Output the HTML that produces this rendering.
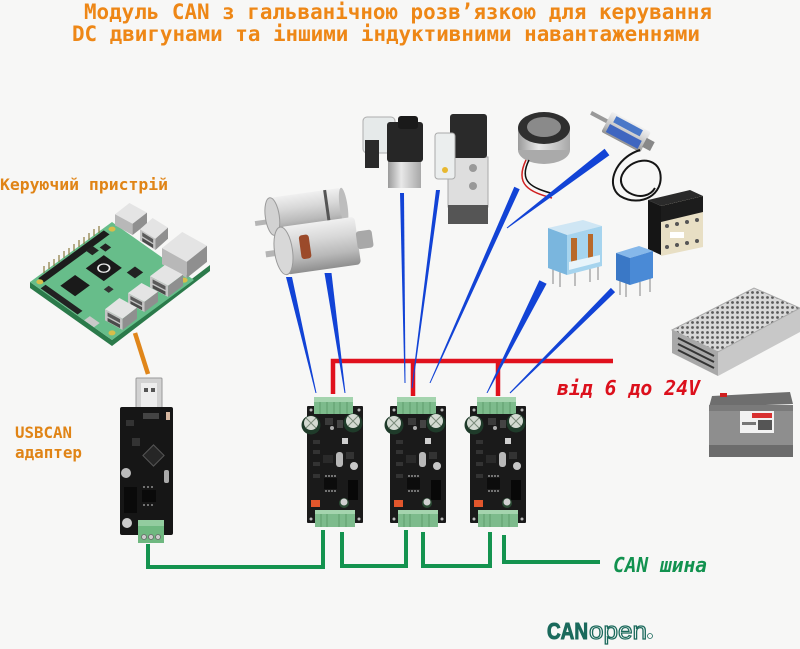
<!DOCTYPE html>
<html><head><meta charset="utf-8"><style>
html,body{margin:0;padding:0;background:#f7f7f6;}
svg{display:block;}
.m{font-family:"DejaVu Sans Mono","Liberation Mono",monospace;font-weight:bold;}
</style></head><body>
<svg width="800" height="649" viewBox="0 0 800 649" xmlns="http://www.w3.org/2000/svg">
<defs>
<linearGradient id="silverV" x1="0" y1="0" x2="0" y2="1">
<stop offset="0" stop-color="#f0f0f0"/><stop offset="0.35" stop-color="#d8d8d8"/><stop offset="0.7" stop-color="#b9b9b9"/><stop offset="1" stop-color="#8f8f8f"/></linearGradient>
<linearGradient id="silverH" x1="0" y1="0" x2="1" y2="0">
<stop offset="0" stop-color="#9a9a9a"/><stop offset="0.4" stop-color="#e8e8e8"/><stop offset="1" stop-color="#a8a8a8"/></linearGradient>
<pattern id="perf" width="5" height="5" patternUnits="userSpaceOnUse"><rect width="5" height="5" fill="#d9d9d9"/><circle cx="2.5" cy="2.5" r="1.4" fill="#5a5a5a"/></pattern>
<g id="isobox">
<polygon points="0,35 45,0 100,30 55,65" fill="#e4e4e4"/>
<polygon points="0,35 55,65 55,100 0,70" fill="#b8b8b8"/>
<polygon points="55,65 100,30 100,65 55,100" fill="#8f8f8f"/>
</g>
<g id="usbbox">
<polygon points="0,35 45,0 100,30 55,65" fill="#e4e4e4"/>
<polygon points="0,35 55,65 55,100 0,70" fill="#c4c4c4"/>
<polygon points="55,65 100,30 100,65 55,100" fill="#8f8f8f"/>
<polygon points="8,45 47,66 47,78 8,57" fill="#5a5a5a"/>
<polygon points="8,62 47,83 47,94 8,73" fill="#4a4a4a"/>
</g>
<g id="pcb">
<rect x="307" y="406" width="56" height="117" fill="#1a1a1a" rx="1"/>
<circle cx="311" cy="410" r="1.5" fill="#bbb"/><circle cx="359" cy="410" r="1.5" fill="#bbb"/>
<circle cx="311" cy="519" r="1.5" fill="#bbb"/><circle cx="359" cy="519" r="1.5" fill="#bbb"/>
<rect x="314" y="397" width="39" height="17" fill="#7dbb8c"/>
<rect x="314" y="397" width="39" height="5" fill="#a4d4ae"/>
<path d="M320,402V414M327,402V414M334,402V414M340,402V414M347,402V414" stroke="#5e9c6d" stroke-width="1"/>
<circle cx="311" cy="425" r="9.5" fill="#1f3b2a"/>
<circle cx="311" cy="423" r="7" fill="#d4dad2"/>
<path d="M306,418L316,428M316,418L306,428" stroke="#7a8a7a" stroke-width="1"/>
<circle cx="353" cy="423" r="9.5" fill="#1f3b2a"/>
<circle cx="353" cy="421" r="7" fill="#d4dad2"/>
<path d="M348,416L358,426M358,416L348,426" stroke="#7a8a7a" stroke-width="1"/>
<rect x="325" y="418" width="8" height="7" fill="#3a3a3a"/>
<rect x="337" y="420" width="6" height="8" fill="#444"/>
<circle cx="332" cy="428" r="2" fill="#aaa"/>
<rect x="342" y="438" width="6" height="6" fill="#cfcfcf"/>
<rect x="313" y="440" width="7" height="4" fill="#333"/>
<rect x="313" y="450" width="7" height="4" fill="#333"/>
<rect x="313" y="462" width="7" height="4" fill="#333"/>
<rect x="313" y="474" width="7" height="4" fill="#333"/>
<rect x="323" y="455" width="10" height="8" fill="#2a2a2a"/>
<rect x="336" y="452" width="7" height="15" rx="3" fill="#b8b8b8"/>
<rect x="346" y="452" width="8" height="7" fill="#333"/>
<circle cx="354" cy="466" r="4" fill="#c8c8c8"/>
<rect x="324" y="478" width="13" height="11" fill="#0c0c0c"/>
<path d="M326,477v-2M329,477v-2M332,477v-2M335,477v-2M326,490v2M329,490v2M332,490v2M335,490v2" stroke="#ccc" stroke-width="1"/>
<rect x="348" y="480" width="10" height="20" fill="#080808"/>
<rect x="311" y="500" width="9" height="7" fill="#e2562c"/>
<circle cx="344" cy="503" r="5" fill="#2a4a33"/><circle cx="344" cy="502" r="3.5" fill="#d0d0d0"/>
<rect x="315" y="510" width="18" height="17" fill="#7dbb8c"/>
<rect x="333" y="510" width="22" height="17" fill="#7dbb8c"/>
<rect x="315" y="510" width="40" height="4" fill="#a4d4ae"/>
<path d="M321,514V527M327,514V527M339,514V527M346,514V527" stroke="#5e9c6d" stroke-width="1"/>
</g>
</defs>

<rect width="800" height="649" fill="#f7f7f6"/>

<!-- Titles -->
<text class="m" x="84" y="19" font-size="21" fill="#ee8716" textLength="628" lengthAdjust="spacingAndGlyphs">Модуль CAN з гальванічною розв’язкою для керування</text>
<text class="m" x="72" y="41" font-size="21" fill="#ee8716" textLength="628" lengthAdjust="spacingAndGlyphs">DC двигунами та іншими індуктивними навантаженнями</text>

<text class="m" x="0" y="190" font-size="16" fill="#e08416" textLength="168" lengthAdjust="spacingAndGlyphs">Керуючий пристрій</text>
<text class="m" x="15" y="438" font-size="16" fill="#e08416" textLength="57" lengthAdjust="spacingAndGlyphs">USBCAN</text>
<text class="m" x="15" y="458" font-size="16" fill="#e08416" textLength="67" lengthAdjust="spacingAndGlyphs">адаптер</text>

<!-- Raspberry Pi -->
<polygon points="30,282 112,340 210,265 210,271 112,346 30,288" fill="#2b7a4a"/>
<g transform="matrix(0.82,-0.60,0.82,0.58,30,282)">
<rect x="0" y="0" width="100" height="100" fill="#67bd8a"/>
<rect x="8" y="2" width="80" height="7" fill="#1c1c1c"/>
<rect x="1" y="12" width="6" height="45" fill="#222"/>
<rect x="45" y="23" width="22" height="22" fill="#1a1a1a"/>
<circle cx="56" cy="34" r="5" fill="none" stroke="#eee" stroke-width="1.5"/>
<rect x="15" y="22" width="18" height="18" fill="#1a1a1a"/>
<rect x="60" y="8" width="8" height="8" fill="#222"/>
<rect x="71" y="14" width="7" height="7" fill="#222"/>
<rect x="66" y="52" width="10" height="10" fill="#222"/>
<rect x="38" y="52" width="6" height="6" fill="#333"/>
<rect x="0" y="66" width="7" height="12" fill="#c9c9c9"/>
<circle cx="6" cy="6" r="3" fill="#d8bd4a"/>
<circle cx="94" cy="6" r="3" fill="#d8bd4a"/>
<circle cx="6" cy="94" r="3" fill="#d8bd4a"/>
<circle cx="94" cy="94" r="3" fill="#d8bd4a"/>
</g>
<g stroke="#8a7a40" stroke-width="1.2">
<path d="M44,273v-7M49,269v-7M54,266v-7M59,262v-7M64,258v-7M69,255v-7M74,251v-7M79,247v-7M84,244v-7M89,240v-7M94,236v-7M99,233v-7"/>
</g>
<use href="#isobox" transform="translate(115,203) scale(0.32,0.32)"/>
<use href="#usbbox" transform="translate(140,218) scale(0.28,0.32)"/>
<use href="#isobox" transform="translate(162,232) scale(0.45,0.46)"/>
<use href="#usbbox" transform="translate(150,265) scale(0.33,0.32)"/>
<use href="#usbbox" transform="translate(128,283) scale(0.30,0.29)"/>
<use href="#usbbox" transform="translate(105,298) scale(0.32,0.32)"/>

<!-- orange link -->
<line x1="135" y1="333" x2="148" y2="374" stroke="#e0861a" stroke-width="4.5"/>

<!-- USBCAN adapter -->
<rect x="136" y="378" width="26" height="40" fill="#d2d2d2" stroke="#999" stroke-width="1" rx="1"/>
<rect x="141" y="383" width="16" height="24" fill="#ededed"/>
<rect x="144" y="388" width="4" height="4" fill="#555"/><rect x="151" y="388" width="4" height="4" fill="#555"/>
<rect x="120" y="407" width="53" height="128" fill="#161616" rx="2"/>
<rect x="143" y="413" width="16" height="6" fill="#444"/>
<rect x="166" y="412" width="4" height="8" fill="#d8b8a0"/>
<rect x="126" y="420" width="8" height="6" fill="#333"/>
<rect x="132" y="438" width="8" height="8" fill="#333"/>
<rect x="146" y="448" width="15" height="15" fill="#262626" stroke="#555" stroke-width="1" transform="rotate(45,153.5,455.5)"/>
<circle cx="126" cy="473" r="5" fill="#bbb"/>
<rect x="164" y="470" width="5" height="13" rx="2" fill="#aaa"/>
<rect x="124" y="487" width="13" height="26" fill="#0a0a0a"/>
<rect x="142" y="490" width="14" height="12" fill="#0a0a0a"/>
<path d="M144,488v-2M148,488v-2M152,488v-2M144,504v2M148,504v2M152,504v2" stroke="#ccc" stroke-width="1"/>
<circle cx="127" cy="523" r="5" fill="#ccc"/>
<rect x="138" y="520" width="26" height="23" fill="#6fb880"/>
<rect x="138" y="520" width="26" height="6" fill="#93cc9f"/>
<circle cx="144" cy="537" r="2.5" fill="#ccc" stroke="#666" stroke-width="0.8"/>
<circle cx="151" cy="537" r="2.5" fill="#ccc" stroke="#666" stroke-width="0.8"/>
<circle cx="158" cy="537" r="2.5" fill="#ccc" stroke="#666" stroke-width="0.8"/>

<!-- Motors -->
<g transform="rotate(-8,305,212)">
<rect x="254" y="214" width="18" height="5" fill="#b5b5b5"/>
<rect x="272" y="193" width="72" height="38" fill="url(#silverV)" rx="4"/>
<ellipse cx="272" cy="212" rx="7" ry="19" fill="#d2d2d2" stroke="#9a9a9a" stroke-width="1"/>
<rect x="326" y="193" width="3" height="38" fill="#555"/>
<ellipse cx="344" cy="212" rx="4" ry="19" fill="#bdbdbd"/>
</g>
<g transform="rotate(-8,318,245)">
<rect x="265" y="244" width="18" height="6" fill="#b5b5b5"/>
<rect x="283" y="222" width="75" height="48" fill="url(#silverV)" rx="4"/>
<ellipse cx="283" cy="246" rx="9" ry="24" fill="#d8d8d8" stroke="#9a9a9a" stroke-width="1"/>
<rect x="300" y="233" width="10" height="24" rx="3" fill="#9b4a2a"/>
<rect x="357" y="237" width="16" height="18" fill="#a8a8a8" rx="3"/>
</g>

<!-- Valve 1 -->
<rect x="363" y="117" width="32" height="36" rx="4" fill="#e6eaea" stroke="#aaa" stroke-width="1" opacity="0.95"/>
<rect x="365" y="140" width="14" height="28" fill="#2a2a2a"/>
<rect x="388" y="160" width="33" height="28" fill="url(#silverH)"/>
<rect x="387" y="122" width="36" height="40" rx="3" fill="#262626"/>
<rect x="398" y="116" width="20" height="13" rx="3" fill="#1a1a1a"/>
<!-- Valve 2 -->
<rect x="448" y="157" width="40" height="50" fill="#dedede" stroke="#aaa" stroke-width="1"/>
<rect x="448" y="205" width="40" height="19" fill="#555"/>
<circle cx="473" cy="168" r="4" fill="#999"/><circle cx="473" cy="186" r="4" fill="#999"/>
<rect x="450" y="114" width="37" height="44" rx="3" fill="#2a2a2a"/>
<rect x="435" y="133" width="20" height="46" rx="3" fill="#ebeeee" stroke="#aaa" stroke-width="1"/>
<circle cx="445" cy="170" r="3" fill="#e8b830"/>

<!-- Magnet -->
<ellipse cx="544" cy="150" rx="26" ry="14" fill="#aaa"/>
<rect x="518" y="128" width="52" height="22" fill="url(#silverH)"/>
<ellipse cx="544" cy="128" rx="26" ry="16" fill="#2f2f2f"/>
<ellipse cx="544" cy="127" rx="17" ry="10" fill="#8a8a8a"/>
<path d="M526,160 C514,185 530,192 552,198" stroke="#d02020" stroke-width="1.5" fill="none"/>
<path d="M529,160 C518,182 532,188 554,194" stroke="#111" stroke-width="1.5" fill="none"/>

<!-- Push-pull solenoid -->
<g transform="rotate(28,625,132)">
<rect x="586" y="129" width="20" height="4" fill="#999"/>
<rect x="604" y="120" width="44" height="23" fill="url(#silverV)" rx="2"/>
<rect x="610" y="122" width="30" height="7" fill="#4a78c8"/>
<rect x="608" y="132" width="36" height="9" fill="#3f66c0"/>
<rect x="647" y="127" width="9" height="10" fill="#888"/>
</g>
<path d="M640,150 C615,158 605,185 620,196 C640,208 665,195 660,172 C655,155 630,158 622,175 C615,192 645,205 655,188" stroke="#151515" stroke-width="2" fill="none"/>

<!-- Contactor -->
<polygon points="648,200 690,190 703,196 661,206" fill="#2a2a2a"/>
<polygon points="648,200 661,206 661,255 648,249" fill="#151515"/>
<polygon points="661,206 703,196 703,247 661,256" fill="#e8dfc4"/>
<polygon points="661,206 703,196 703,212 661,222" fill="#1c1c1c"/>
<g fill="#555"><circle cx="667" cy="226" r="2"/><circle cx="677" cy="224" r="2"/><circle cx="687" cy="222" r="2"/><circle cx="697" cy="220" r="2"/>
<circle cx="667" cy="247" r="2"/><circle cx="677" cy="245" r="2"/><circle cx="687" cy="243" r="2"/><circle cx="697" cy="241" r="2"/></g>
<rect x="670" y="232" width="14" height="6" fill="#fff"/>

<!-- Relay 1 -->
<path d="M553,268v16M560,271v16M575,272v14M590,268v14M598,266v14" stroke="#999" stroke-width="1.2"/>
<polygon points="548,228 583,220 602,226 567,235" fill="#cfe6f4"/>
<polygon points="548,228 567,235 567,275 548,268" fill="#7ab6de"/>
<polygon points="567,235 602,226 602,266 567,275" fill="#a6d4ee"/>
<rect x="571" y="238" width="6" height="26" fill="#b8692a"/>
<rect x="588" y="234" width="5" height="24" fill="#b8692a"/>
<polygon points="569,262 600,255 600,262 569,270" fill="#e8f4fa"/>

<!-- Relay 2 -->
<path d="M620,280v15M626,283v14M640,282v14M650,278v14" stroke="#999" stroke-width="1.2"/>
<polygon points="616,253 639,246 653,251 630,258" fill="#86b8ea"/>
<polygon points="616,253 630,258 630,285 616,280" fill="#3a78c6"/>
<polygon points="630,258 653,251 653,278 630,285" fill="#4a8ad6"/>

<!-- Power supply -->
<polygon points="672,330 718,352 718,376 672,353" fill="#a8a8a8"/>
<polygon points="718,352 800,308 800,332 718,376" fill="#c8c8c8"/>
<polygon points="672,330 754,288 800,308 718,352" fill="url(#perf)" stroke="#aaa" stroke-width="1"/>
<path d="M678,338l36,18M678,344l36,18M678,350l36,18" stroke="#333" stroke-width="2"/>

<!-- Battery -->
<polygon points="712,396 790,392 793,404 709,407" fill="#6e6e6e"/>
<rect x="720" y="393" width="7" height="4" fill="#d02020"/>
<rect x="709" y="405" width="84" height="52" fill="#8e8e8e"/>
<rect x="709" y="405" width="84" height="6" fill="#7a7a7a"/>
<rect x="709" y="445" width="84" height="12" fill="#6c6c6c"/>
<rect x="740" y="411" width="34" height="22" fill="#f2f2f2"/>
<rect x="752" y="413" width="20" height="5" fill="#d83030"/>
<rect x="742" y="422" width="14" height="3" fill="#777"/>
<rect x="758" y="420" width="14" height="10" fill="#555"/>

<!-- Red power lines -->
<path d="M333,394V361H613M413,396V361M498,396V361" stroke="#e0111d" stroke-width="4.5" fill="none"/>

<!-- Blue wedges -->
<g fill="#1243d6">
<polygon points="286,277 292,277 316.5,393 315.5,393"/>
<polygon points="324.5,273 331.5,273 345.5,393 344.5,393"/>
<polygon points="400,193 404,193 405.5,383 404.5,383"/>
<polygon points="436,190 440,190 412.5,388 411.5,388"/>
<polygon points="514.3,186.8 519.7,189.2 430.5,383 429.5,383"/>
<polygon points="604.6,148.8 609.4,155.2 507.3,228.4 506.7,227.6"/>
<polygon points="539.4,280.2 546.6,283.8 487.5,393 486.5,393"/>
<polygon points="610.9,287.9 615.1,292.1 510.4,393.4 509.6,392.6"/>
</g>

<!-- PCBs -->
<use href="#pcb"/>
<use href="#pcb" transform="translate(83,0)"/>
<use href="#pcb" transform="translate(163,0)"/>

<!-- Green CAN lines -->
<g stroke="#14934f" stroke-width="4" fill="none">
<path d="M148,544V567H323V530"/>
<path d="M342,532V566H406V530"/>
<path d="M423,532V566H490V532"/>
<path d="M504,535V562H600"/>
</g>

<text class="m" x="557" y="395" font-size="20" font-style="italic" fill="#dc101c" textLength="143" lengthAdjust="spacingAndGlyphs">від 6 до 24V</text>
<text class="m" x="613" y="572" font-size="20" font-style="italic" fill="#12924f" textLength="94" lengthAdjust="spacingAndGlyphs">CAN шина</text>

<!-- CANopen logo -->
<text x="547" y="639" font-family="Liberation Sans, sans-serif" font-weight="bold" font-size="23" fill="#1b6a5c" stroke="#1b6a5c" stroke-width="1" textLength="41" lengthAdjust="spacingAndGlyphs">CAN</text>
<text x="589" y="639" font-family="Liberation Sans, sans-serif" font-size="24" fill="#f7f7f6" stroke="#1b6a5c" stroke-width="1.2" textLength="58" lengthAdjust="spacingAndGlyphs">open</text>
<circle cx="650" cy="636" r="2.5" fill="none" stroke="#1b6a5c" stroke-width="0.8"/>
</svg>
</body></html>
